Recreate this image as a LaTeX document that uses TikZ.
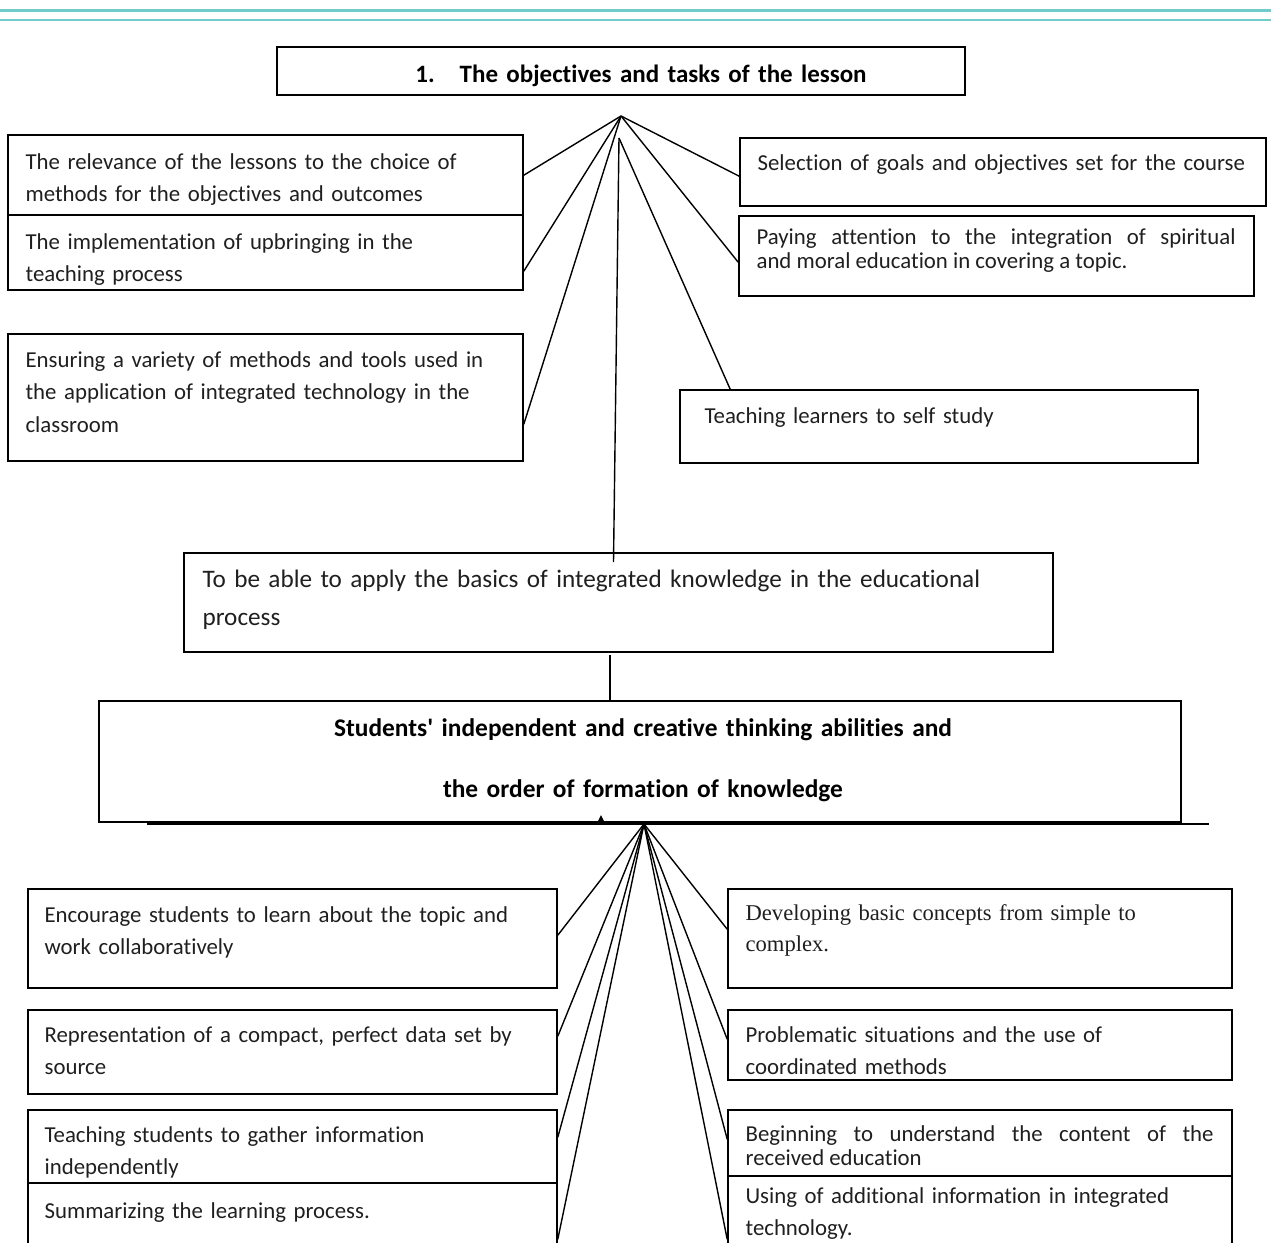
\documentclass[tikz,border=0pt]{standalone}
\usepackage{fontspec}
\setmainfont{Carlito}[Ligatures=NoCommon]
\newfontfamily\timesface{Liberation Serif}
\usetikzlibrary{fit}
\definecolor{rulecol}{RGB}{112,204,204}
\colorlet{ink}{black!88}

\begin{document}
\begin{tikzpicture}[x=0.5pt, y=-0.5pt,
    box/.style={draw, line width=0.8pt, inner sep=0pt},
    txt/.style={inner sep=0pt, anchor=base west, text=ink, align=left, text width=260pt,
      font=\fontsize{11.4}{16.25}\selectfont},
    tight/.style={align=justify, font=\fontsize{11.4}{12.25}\selectfont},
    head/.style={inner sep=0pt, anchor=base, align=center, text width=560pt,
      font=\bfseries\fontsize{12.7}{30.5}\selectfont},
    link/.style={line width=0.7pt}]

    \path[use as bounding box, clip] (0,0) rectangle (1271,1243);
    \draw[rulecol, line width=1.6pt] (0,10.5) -- (1271,10.5);
    \draw[rulecol, line width=1pt] (0,20) -- (1271,20);

    % objectives and tasks
    \node[box, fit={(277,47) (965,95)}] (obj) {};
    \node[head, font=\bfseries\fontsize{12.5}{30.5}\selectfont] (objt) at ([shift={(20,36)}]obj.north) {1.\hspace{1em}The objectives and tasks of the lesson};

    \node[box, fit={(8,135) (523,215)}] (rel) {};
    \node[txt] (relt) at ([shift={(18,35)}]rel.north west) {The relevance of the lessons to the choice of\\methods for the objectives and outcomes};
    \node[box, fit={(8,215) (523,290)}] (impl) {};
    \node[txt] (implt) at ([shift={(18,35)}]impl.north west) {The implementation of upbringing in the\\teaching process};
    \node[box, fit={(8,334) (523,461)}] (ens) {};
    \node[txt] (enst) at ([shift={(18,34)}]ens.north west) {Ensuring a variety of methods and tools used in\\the application of integrated technology in the\\classroom};

    \node[box, fit={(740,138) (1266,206)}] (sel) {};
    \node[txt] (selt) at ([shift={(18,33)}]sel.north west) {Selection of goals and objectives set for the course};
    \node[box, fit={(739,216) (1254,296)}] (pay) {};
    \node[txt, tight, text width=239.5pt] (payt) at ([shift={(18,29)}]pay.north west) {Paying attention to the integration of spiritual\linebreak and moral education in covering a topic.};
    \node[box, fit={(680,390) (1198,463)}] (tls) {};
    \node[txt] (tlst) at ([shift={(25,34)}]tls.north west) {Teaching learners to self study};

    \node[box, fit={(184,553) (1053,652)}] (mid) {};
    \node[txt, text width=420pt, font=\fontsize{12.6}{19}\selectfont] (midt) at ([shift={(19,35)}]mid.north west) {To be able to apply the basics of integrated knowledge in the educational\\process};

    % thinking abilities
    \node[box, fit={(99,701) (1181,822)}] (stu) {};
    \node[head] (stut) at ([shift={(3,36)}]stu.north) {Students\textquotesingle\ independent and creative thinking abilities and\\the order of formation of knowledge};

    \node[box, fit={(28,889) (557,988)}] (enc) {};
    \node[txt] (enct) at ([shift={(17,34)}]enc.north west) {Encourage students to learn about the topic and\\work collaboratively};
    \node[box, fit={(28,1010) (557,1094)}] (rep) {};
    \node[txt] (rept) at ([shift={(17,33)}]rep.north west) {Representation of a compact, perfect data set by\\source};
    \node[box, fit={(28,1110) (557,1183)}] (gat) {};
    \node[txt] (gatt) at ([shift={(17,33)}]gat.north west) {Teaching students to gather information\\independently};
    \node[box, fit={(28,1183) (557,1270)}] (summ) {};
    \node[txt] (summt) at ([shift={(17,36)}]summ.north west) {Summarizing the learning process.};

    \node[box, fit={(728,889) (1232,988)}] (dev) {};
    \node[txt, font=\timesface\fontsize{11.3}{15.5}\selectfont] (devt) at ([shift={(18,32)}]dev.north west) {Developing basic concepts from simple to\\complex.};
    \node[box, fit={(728,1010) (1232,1080)}] (prob) {};
    \node[txt] (probt) at ([shift={(18,33)}]prob.north west) {Problematic situations and the use of\\coordinated methods};
    \node[box, fit={(728,1110) (1232,1176)}] (begin) {};
    \node[txt, tight, text width=234pt] (begint) at ([shift={(18,32)}]begin.north west) {Beginning to understand the content of the\linebreak received education};
    \node[box, fit={(728,1176) (1232,1270)}] (usei) {};
    \node[txt] (useit) at ([shift={(18,28)}]usei.north west) {Using of additional information in integrated\\technology.};

    % connectors
    \coordinate (apex) at (621,116);
    \coordinate (apex2) at (619,138);
    \coordinate (midlink) at (610,655);
    \coordinate (foot) at (644,824);
    \coordinate (baseL) at (147,824);
    \coordinate (baseR) at (1209,824);

    \foreach \n/\dy in {rel/41, impl/57, ens/91}
      \draw[link] (apex) -- ([shift={(0,\dy)}]\n.north east);
    \foreach \n/\dy in {sel/39, pay/47}
      \draw[link] (apex) -- ([shift={(0,\dy)}]\n.north west);
    \draw[link] (apex2) -- ([shift={(51,0)}]tls.north west);
    \draw[link] (apex2) -- ([shift={(-5,10)}]mid.north);
    \draw[link] (midlink) -- (midlink |- stu.north);
    \draw[link] (baseL) -- (baseR);
    \fill (598,821) -- (601,815) -- (604,821) -- cycle;
    \foreach \n/\dy in {enc/47, rep/27, gat/28, summ/57}
      \draw[link] (foot) -- ([shift={(0,\dy)}]\n.north east);
    \foreach \n/\dy in {dev/41, prob/30, begin/30, usei/64}
      \draw[link] (foot) -- ([shift={(0,\dy)}]\n.north west);
\end{tikzpicture}
\end{document}
